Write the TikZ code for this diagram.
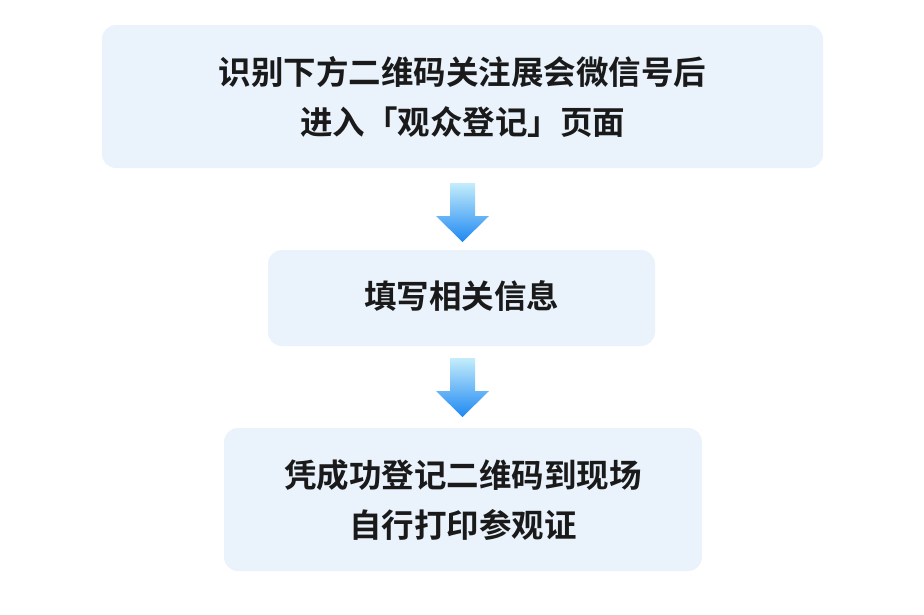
\documentclass[tikz,border=0pt]{standalone}
\usepackage{fontspec}
\newfontfamily\cjk{Noto Sans CJK SC}[BoldFont={Noto Sans CJK SC Bold}]
\definecolor{boxfill}{HTML}{EAF3FC}
\definecolor{txt}{HTML}{1A1A1A}
\definecolor{atop}{HTML}{C4EDFB}
\definecolor{abot}{HTML}{1E88F2}
\begin{document}
\begin{tikzpicture}[x=1pt,y=-1pt,
  stepbox/.style={fill=boxfill,rounded corners=14pt,draw=none},
  lbl/.style={font=\cjk\bfseries\fontsize{32.5}{50}\selectfont,text=txt,align=center}]
\useasboundingbox (0,0) rectangle (924,614);
\fill[white] (0,0) rectangle (924,614);
\path[stepbox] (102,25) rectangle (823,168);
\node[lbl] (t1) at (462.5,97) {识别下方二维码关注展会微信号后\\进入「观众登记」页面};
\path[stepbox] (268,250) rectangle (655,346);
\node[lbl] (t2) at (461.5,296) {填写相关信息};
\path[stepbox] (224,428) rectangle (702,571);
\node[lbl] (t3) at (463,500) {凭成功登记二维码到现场\\自行打印参观证};
\foreach \y in {183,358}{
  \shade[top color=atop,bottom color=abot]
    (450,\y) -- (475,\y) -- (475,\y+33) -- (489,\y+33) -- (462.5,\y+59)
    -- (436,\y+33) -- (450,\y+33) -- cycle;
}
\end{tikzpicture}
\end{document}
